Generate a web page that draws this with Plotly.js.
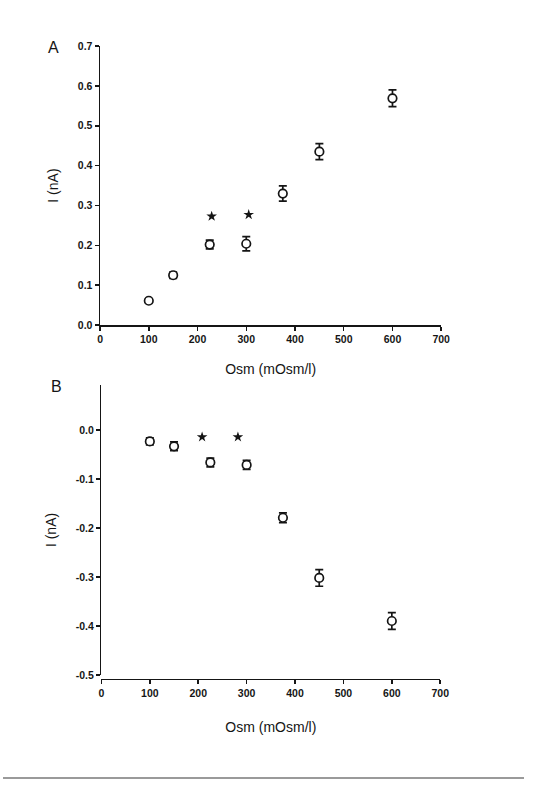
<!DOCTYPE html>
<html>
<head>
<meta charset="utf-8">
<script src="https://cdn.plot.ly/plotly-3.0.1.min.js"></script>
<style>
html, body { margin: 0; padding: 0; background: #fff; }
#chart { width: 533px; height: 785px; }
</style>
</head>
<body>
<div id="chart"></div>
<script>
'use strict';

// osmolarity steps (mOsm/l), same for both panels
var osm = [100, 150, 225, 300, 375, 450, 600];

// panel A - outward current
var currentA = [0.061, 0.125, 0.202, 0.204, 0.330, 0.435, 0.569];
var semA = [0.005, 0.008, 0.011, 0.018, 0.019, 0.020, 0.021];
var starOsmA = [229, 305];
var starCurA = [0.273, 0.277];

// panel B - inward current
var currentB = [-0.023, -0.033, -0.066, -0.071, -0.179, -0.302, -0.390];
var semB = [0.007, 0.009, 0.009, 0.009, 0.010, 0.017, 0.017];
var starOsmB = [208, 282];
var starCurB = [-0.014, -0.014];

var osmTicks = [0, 100, 200, 300, 400, 500, 600, 700];
var tickValsA = [0, 0.1, 0.2, 0.3, 0.4, 0.5, 0.6, 0.7];
var tickTextA = ['0.0', '0.1', '0.2', '0.3', '0.4', '0.5', '0.6', '0.7'];
var tickValsB = [0, -0.1, -0.2, -0.3, -0.4, -0.5];
var tickTextB = ['0.0', '-0.1', '-0.2', '-0.3', '-0.4', '-0.5'];

var W = 533, H = 785;
function fx(p) { return p / W; }          // pixel -> paper x
function fy(p) { return 1 - p / H; }      // pixel -> paper y

var INK = '#151515';
var FONT = 'Liberation Sans, Arial, sans-serif';

function points(x, y, err, xa, ya) {
    return {
        type: 'scatter', mode: 'markers', x: x, y: y,
        xaxis: xa, yaxis: ya, showlegend: false,
        marker: { symbol: 'circle', size: 8.5, color: '#fff', line: { color: INK, width: 1.7 } },
        error_y: { type: 'data', array: err, visible: true, color: INK, thickness: 1.7, width: 4 }
    };
}

function stars(x, y, xa, ya) {
    return {
        type: 'scatter', mode: 'markers', x: x, y: y,
        xaxis: xa, yaxis: ya, showlegend: false,
        marker: { symbol: 'star', size: 8, color: INK, line: { width: 0 } }
    };
}

var data = [
    points(osm, currentA, semA, 'x', 'y'),
    stars(starOsmA, starCurA, 'x', 'y'),
    points(osm, currentB, semB, 'x2', 'y2'),
    stars(starOsmB, starCurB, 'x2', 'y2')
];

var axisCommon = {
    showgrid: false, zeroline: false, showline: true,
    linecolor: INK, linewidth: 1.5,
    ticks: 'outside', ticklen: 4, tickwidth: 1.5, tickcolor: INK,
    tickfont: { family: FONT, size: 10.5, color: INK, weight: 'bold' },
    automargin: true, fixedrange: true
};

function axis(extra) {
    return Object.assign({}, axisCommon, extra);
}

function axisTitle(text, standoff) {
    return { text: text, font: { family: FONT, size: 14, color: INK }, standoff: standoff };
}

var layout = {
    width: W, height: H,
    margin: { l: 0, r: 0, t: 0, b: 0 },
    paper_bgcolor: '#fff', plot_bgcolor: 'rgba(0,0,0,0)',
    xaxis: axis({
        domain: [fx(99.3), fx(448.3)], range: [0, 700], anchor: 'y',
        tickvals: osmTicks,
        title: axisTitle('Osm (mOsm/l)', 20)
    }),
    yaxis: axis({
        domain: [fy(324), fy(40.7)], range: [0, 0.7], anchor: 'x',
        tickvals: tickValsA, ticktext: tickTextA,
        title: axisTitle('I (nA)', 16)
    }),
    xaxis2: axis({
        domain: [fx(100.7), fx(447.3)], range: [0, 700], anchor: 'free', position: fy(683.3),
        tickvals: osmTicks,
        title: axisTitle('Osm (mOsm/l)', 24)
    }),
    yaxis2: axis({
        domain: [fy(679.2), fy(385)], range: [-0.5, 0.092], anchor: 'x2',
        tickvals: tickValsB, ticktext: tickTextB,
        title: axisTitle('I (nA)', 16)
    }),
    annotations: [
        { text: 'A', xref: 'paper', yref: 'paper', x: fx(44), y: fy(31), showarrow: false,
          font: { family: FONT, size: 16, color: INK } },
        { text: 'B', xref: 'paper', yref: 'paper', x: fx(47), y: fy(386.5), showarrow: false,
          font: { family: FONT, size: 16, color: INK } }
    ],
    shapes: [
        { type: 'line', xref: 'paper', yref: 'paper', x0: 0, x1: 1, y0: fy(784), y1: fy(784),
          line: { color: '#9a9a9a', width: 2 } }
    ]
};

Plotly.newPlot('chart', data, layout, { displayModeBar: false, staticPlot: true });
</script>
</body>
</html>
